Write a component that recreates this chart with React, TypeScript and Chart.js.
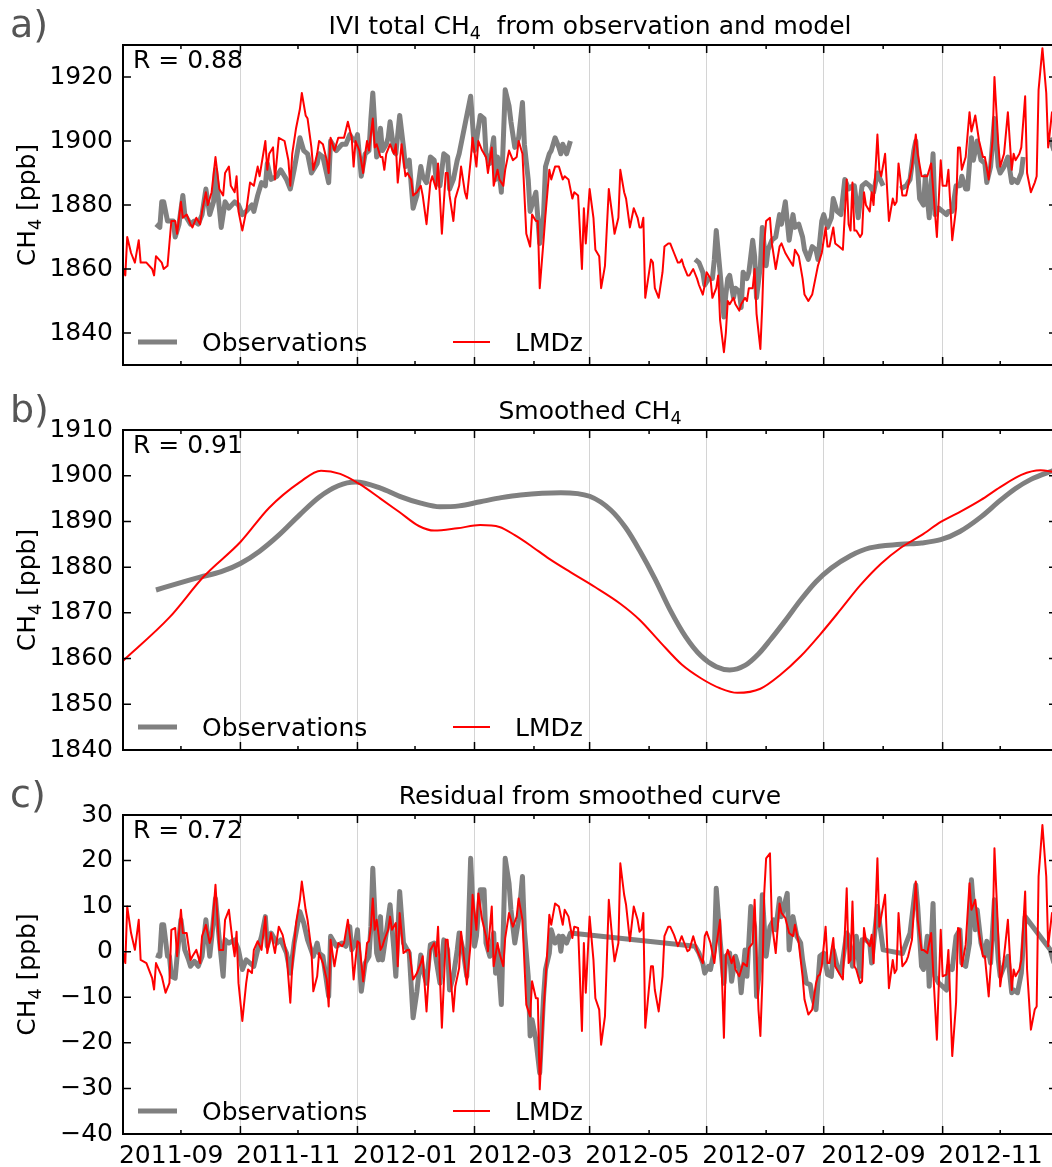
import React, { useEffect, useRef } from "react";
import { Chart, registerables } from "chart.js";

Chart.register(...registerables);

const FF = '"DejaVu Sans", "Liberation Sans", sans-serif';

// x values are days counted from 2011-07-01
const xTickDays = [62, 123, 184, 244, 305, 366, 428, 489];
const xTickLabels = ["2011-09", "2011-11", "2012-01", "2012-03", "2012-05", "2012-07", "2012-09", "2012-11"];
const xMinorDays = [31, 92, 153, 215, 275, 336, 397, 458];
const X_MIN = 0.8;
const X_MAX = 487.6;

type Pair = [number, number | null];

// a) total CH4
const obsTotal: Pair[] = [
  [18,1874],[20,1873],[21,1881],[22,1881],[24,1875],[25,1875],[27,1875],[28,1870],[30,1874],[32,1883],[33,1877],[35,1875],[36,1874],[38,1875],[40,1874],[42,1877],[44,1885],[46,1877],[48,1881],[49,1891],[51,1879],[52,1873],[54,1881],[56,1879],[59,1881],[61,1880],[63,1877],[65,1878],[68,1880],[69,1878],[71,1883],[73,1887],[75,1886],[76,1893],[78,1888],[81,1889],[83,1891],[86,1888],[88,1885],[90,1891],[93,1901],[95,1897],[97,1896],[99,1890],[102,1893],[103,1896],[105,1895],[108,1887],[109,1900],[112,1897],[115,1899],[117,1899],
  [119,1902],[120,1901],[122,1900],[123,1902],[125,1889],[127,1896],[129,1897],[130,1907],[131,1915],[133,1895],[134,1897],[135,1904],[136,1897],[138,1899],[139,1901],[140,1906],[142,1897],[143,1896],[145,1908],[147,1898],[148,1892],[150,1894],[152,1879],[154,1883],[156,1892],[157,1889],[159,1887],[161,1895],[163,1894],[164,1888],[166,1886],[168,1896],[170,1895],[171,1885],[173,1888],[175,1894],[176,1896],[182,1914],[184,1897],[185,1900],[187,1908],[189,1907],[190,1896],[192,1893],[194,1901],[195,1888],[196,1895],[198,1884],[200,1916],[202,1911],[203,1906],[205,1898],[207,1901],[209,1912],[210,1899],[212,1888],[213,1878],[214,1880],[216,1884],[218,1868],[220,1877],[221,1892],[223,1896],[224,1897],[226,1901],[228,1898],[229,1896],[230,1899],[232,1896],[234,1900],
  [260,null],
  [299,1863],[301,1862],[303,1859],[304,1855],[306,1857],[308,1857],[309,1863],[310,1872],[312,1859],[314,1845],[315,1852],[316,1857],[317,1858],[319,1851],[320,1854],[322,1853],[323,1848],[324,1859],[326,1857],[327,1859],[329,1869],[330,1864],[331,1851],[333,1861],[334,1873],[336,1861],[337,1866],[339,1869],[341,1870],[343,1877],[344,1874],[346,1881],[348,1869],[350,1877],[351,1873],[353,1874],[355,1870],[356,1866],[358,1863],[360,1867],[362,1866],[363,1863],
  [365,1875],[366,1877],[368,1873],[370,1876],[371,1882],[373,1878],[375,1877],[377,1888],[379,1885],[381,1886],[382,1886],[384,1876],[386,1886],[388,1887],[390,1886],[392,1884],[394,1890],[397,1886],
  [401,null],
  [406,1885],[409,1886],[411,1888],[413,1897],[414,1900],[416,1882],[418,1880],[419,1889],[421,1876],[423,1896],[424,1877],[426,1879],[428,1878],[430,1877],[431,1878],[433,1878],[435,1886],[437,1886],[438,1889],[440,1885],[441,1885],[443,1901],[444,1894],[446,1900],[448,1894],[450,1893],[451,1887],[453,1892],[455,1907],[457,1892],[458,1890],[460,1892],[462,1895],[464,1887],[465,1888],[467,1887],[469,1890],[470,1895],
  [477,null],
  [484,1901],[486,1897],
];

const lmdzTotal: Pair[] = [
  [1,1860],[2,1858],[3,1870],[5,1865],[7,1862],[9,1869],[10,1862],[13,1862],[16,1860],[17,1858],[18,1864],[21,1862],[22,1860],[24,1861],[26,1875],[28,1875],[29,1871],[31,1881],[32,1876],[34,1877],[36,1874],[37,1873],[39,1876],[41,1874],[42,1878],[44,1884],[45,1880],[47,1884],[49,1895],[51,1885],[53,1883],[54,1890],[56,1892],[57,1886],[59,1884],[60,1889],[61,1878],[63,1872],[65,1878],[67,1887],[69,1886],[71,1892],[72,1889],[75,1900],[76,1891],[77,1896],[79,1898],[80,1888],[82,1901],[85,1900],[87,1894],[88,1886],[89,1896],[91,1904],[93,1910],[94,1915],[96,1908],[97,1907],[99,1898],[100,1891],[102,1896],[103,1900],[105,1899],[107,1894],[108,1890],[109,1901],[111,1897],[113,1901],[115,1901],[116,1901],[118,1906],
  [120,1901],[121,1892],[122,1900],[124,1897],[126,1890],[127,1896],[128,1900],[129,1897],[131,1907],[132,1898],[133,1899],[135,1895],[136,1895],[137,1891],[138,1896],[140,1899],[142,1896],[143,1899],[144,1887],[146,1899],[148,1889],[149,1890],[151,1888],[152,1883],[154,1884],[156,1886],[157,1883],[159,1874],[161,1887],[162,1889],[164,1885],[165,1893],[167,1871],[169,1890],[170,1890],[171,1883],[173,1875],[174,1882],[176,1886],[177,1892],[179,1884],[180,1882],[182,1894],[183,1901],[185,1892],[186,1900],[188,1897],[190,1895],[191,1890],[193,1898],[194,1886],[196,1891],[197,1888],[199,1886],[200,1891],[202,1897],[204,1894],[206,1895],[207,1900],[209,1896],[211,1871],[213,1867],[214,1877],[216,1875],[217,1875],[218,1854],[220,1869],[221,1877],[223,1891],[224,1888],[226,1892],[228,1892],[230,1888],[231,1889],[233,1888],[235,1882],[236,1884],[238,1883],[240,1860],
  [241,1879],[242,1868],[244,1885],[246,1876],[247,1866],[249,1864],[250,1854],[252,1861],[254,1885],[256,1876],[257,1871],[259,1876],[260,1891],[262,1884],[263,1882],[265,1873],[267,1879],[269,1876],[270,1873],[271,1873],[272,1876],[273,1851],[276,1863],[277,1862],[278,1854],[280,1851],[282,1859],[283,1867],[285,1868],[286,1868],[288,1865],[290,1862],[291,1862],[292,1863],[293,1861],[295,1858],[296,1858],[298,1860],[300,1857],[301,1855],[303,1852],[304,1855],[305,1859],[307,1857],[308,1851],[310,1854],[311,1858],[312,1844],[314,1834],[315,1840],[316,1850],[317,1849],[319,1851],[320,1849],[322,1847],[323,1849],[325,1851],[326,1850],[327,1854],[329,1854],[330,1860],[331,1846],[333,1835],[334,1849],[335,1868],[336,1875],[338,1876],[339,1868],[341,1860],[343,1867],[344,1868],[346,1865],[348,1863],[350,1861],[351,1866],[353,1864],[355,1857],[356,1852],[358,1850],[360,1852],[362,1858],[363,1861],
  [365,1865],[367,1873],[368,1867],[369,1867],[371,1873],[372,1868],[374,1867],[376,1866],[378,1888],[379,1874],[380,1872],[381,1887],[382,1872],[383,1872],[385,1870],[386,1871],[387,1884],[388,1880],[390,1878],[391,1884],[392,1880],[394,1902],[395,1891],[396,1889],[398,1896],[400,1875],[402,1882],[403,1880],[404,1881],[405,1893],[407,1883],[409,1883],[410,1886],[412,1892],[414,1902],[415,1896],[417,1889],[418,1889],[420,1889],[422,1893],[425,1870],[427,1894],[428,1886],[430,1886],[431,1891],[433,1869],[435,1879],[436,1898],[437,1898],[438,1891],[440,1895],[442,1909],[443,1903],[445,1908],[447,1900],[449,1895],[450,1895],[452,1888],[454,1900],[455,1920],[457,1899],[458,1892],[460,1896],[462,1909],[464,1891],[465,1896],[466,1894],[468,1896],[469,1898],[471,1914],[472,1890],[474,1884],[476,1887],[477,1889],[478,1916],[480,1929],[482,1915],[483,1898],[485,1909],[486,1909],
];

// b) smoothed CH4
const obsSmooth: Pair[] = [
  [18,1875],[30,1876.5],[41,1877.8],[52,1879],[62,1880.8],[72,1883.5],[82,1887],[93,1891.5],[103,1895.3],[113,1897.8],[122,1898.6],[135,1897.3],[145,1895.5],[156,1894],[166,1893.2],[176,1893.4],[187,1894.3],[198,1895.2],[208,1895.8],[229,1896.3],[244,1895.5],[255,1892.5],[263,1888.5],[270,1883.7],[278,1877.5],[286,1870.6],[294,1864.8],[302,1860.6],[310,1858.2],[317,1857.5],[325,1858.5],[332,1861],[338,1864],[346,1868.3],[354,1872.8],[362,1876.8],[370,1879.8],[380,1882.5],[390,1884.2],[406,1885],[417,1885.3],[427,1886],[437,1887.8],[448,1891],[458,1894.6],[466,1897.2],[474,1899.2],[486,1901.2],
];
const lmdzSmooth: Pair[] = [
  [0,1859.2],[25,1869],[43,1878],[62,1885.5],[77,1893],[93,1898.6],[104,1901.1],[114,1900.4],[124,1898.2],[135,1895],[145,1892],[155,1889],[163,1888],[175,1888.5],[187,1889.2],[197,1888.8],[205,1887],[213,1884.8],[223,1881.8],[234,1878.9],[247,1875.6],[260,1872],[270,1868.5],[281,1863.5],[292,1858.7],[302,1855.7],[312,1853.5],[321,1852.5],[333,1853.4],[343,1856.3],[354,1860.5],[364,1865.2],[375,1870.8],[385,1876],[396,1880.8],[406,1884.2],[417,1887],[427,1889.9],[438,1892.3],[448,1894.7],[458,1897.5],[469,1900.2],[479,1901.2],[486,1900.8],
];

// c) residual from smoothed curve
const obsResidual: Pair[] = [
  [18,-0.7],[20,-1.0],[21,5.9],[22,5.9],[24,-1.0],[25,-1.0],[26,-5.4],[28,-5.8],[29,-1.0],[31,7.0],[33,0.4],[35,-1.8],[36,-3.2],[38,-2.1],[40,-3.2],[42,-1.0],[44,7.0],[46,-1.0],[47,3.0],[49,11.7],[51,2.6],[53,-5.4],[54,2.6],[56,1.9],[59,2.6],[61,0.4],[63,-3.9],[65,-1.8],[67,-2.5],[69,-3.2],[71,0.4],[73,3.4],[75,7.7],[76,1.2],[78,4.1],[81,1.9],[83,2.6],[86,-0.3],[88,-4.7],[90,1.9],[93,8.8],[95,6.3],[97,2.6],[100,-1.0],[102,1.9],[103,-0.3],[105,-1.0],[108,-9.8],[109,3.4],[112,1.2],[115,1.9],[117,1.2],
  [119,5.5],[120,0.4],[122,1.9],[123,4.8],[125,-8.7],[127,-2.5],[129,-1.0],[130,5.5],[131,18.3],[133,-0.3],[134,-1.8],[135,7.7],[136,-1.8],[138,4.1],[140,10.3],[142,0.4],[143,-5.4],[145,13.2],[147,1.9],[149,0.4],[150,-0.3],[152,-14.5],[154,-8.7],[156,-0.7],[157,-3.9],[159,-6.9],[161,1.5],[163,1.9],[164,-1.8],[166,-6.9],[168,2.6],[170,0.4],[171,-8.4],[173,-5.4],[175,0.4],[176,4.1],[178,0.4],[180,-5.4],[182,20.5],[184,1.2],[185,3.4],[187,13.6],[189,13.6],[190,1.9],[192,-1.0],[194,4.1],[195,-4.7],[196,0.4],[198,-11.6],[200,20.5],[202,15.0],[203,9.2],[205,1.9],[207,7.0],[209,16.5],[210,4.8],[212,-5.4],[213,-18.5],[214,-14.9],[216,-19.3],[218,-26.6],[220,-9.8],[221,-3.9],[223,-0.3],[224,4.8],[226,1.9],[228,3.4],[229,0.1],[230,3.4],[232,1.9],[234,4.1],
  [299,1.2],[301,-0.3],[303,-2.5],[304,-4.7],[306,-3.2],[307,-3.9],[309,0.4],[310,13.9],[312,2.6],[314,-6.9],[315,-1.0],[317,-0.3],[318,-6.5],[320,-1.0],[322,-3.9],[323,-9.0],[325,0.4],[326,-5.4],[328,9.9],[330,5.5],[331,-9.8],[333,-2.5],[334,12.5],[336,-1.0],[338,5.5],[340,7.0],[341,4.8],[343,11.7],[344,7.7],[347,12.8],[348,0.4],[350,7.7],[352,3.4],[354,1.9],[355,-1.8],[357,-6.9],[359,-7.2],[360,-9.8],[362,-12.7],[364,-1.0],
  [366,-0.3],[368,-5.0],[370,-5.4],[371,0.4],[373,-3.2],[375,-4.7],[378,4.1],[379,3.4],[381,-3.2],[383,3.4],[385,-5.4],[386,2.6],[388,2.6],[390,1.9],[391,-2.5],[394,9.9],[397,0.4],[407,-0.4],[409,1.9],[411,4.1],[414,14.7],[415,9.9],[417,-3.2],[418,-3.9],[420,3.4],[421,-7.6],[423,10.6],[424,-5.4],[426,-6.9],[428,-7.6],[430,-8.4],[431,-3.2],[433,-3.9],[435,3.4],[437,4.8],[438,-2.5],[440,-3.2],[442,1.9],[443,15.8],[445,4.8],[446,9.2],[448,1.9],[450,-1.0],[451,2.3],[453,-2.5],[455,11.4],[457,-1.8],[458,-5.4],[460,-3.2],[462,-1.0],[464,-9.0],[465,-8.4],[467,-9.0],[469,-4.7],[471,7.7],[484,0.5],[486,-2.5],
];

const lmdzResidual: Pair[] = [
  [1,-0.3],[2,-2.5],[3,9.9],[5,4.1],[7,0.4],[9,7.0],[10,-1.8],[13,-2.5],[16,-5.8],[17,-8.3],[18,-2.5],[21,-5.4],[23,-9.0],[25,-6.9],[26,4.8],[28,5.2],[29,-1.0],[31,9.2],[32,4.1],[34,4.1],[36,-1.8],[37,-1.0],[39,0.4],[41,-2.5],[42,3.4],[44,5.9],[46,1.9],[47,3.4],[49,14.7],[51,0.4],[53,0.4],[54,7.0],[56,9.2],[58,1.9],[59,-1.0],[60,4.4],[61,-6.9],[63,-15.2],[65,-6.9],[66,-3.9],[68,-4.7],[69,0.4],[71,2.3],[73,0.4],[75,7.7],[76,-0.3],[78,4.1],[80,-0.3],[82,5.5],[84,3.7],[86,-0.3],[88,-11.2],[89,-3.2],[91,6.3],[93,11.4],[94,15.4],[96,9.2],[97,7.0],[99,0.4],[100,-8.7],[102,-5.4],[103,-0.3],[105,-2.5],[107,-6.1],[108,-12.0],[109,2.6],[111,-3.2],[113,1.9],[115,1.2],[116,1.9],[118,7.0],[120,0.4],
  [121,-6.1],[123,2.3],[124,1.9],[126,-6.5],[128,1.9],[129,2.3],[130,5.5],[131,11.7],[132,4.8],[133,7.0],[135,0.4],[136,1.2],[137,2.6],[139,4.8],[140,7.7],[141,4.8],[143,6.3],[144,-3.2],[145,8.5],[147,-0.3],[149,0.4],[150,0.4],[152,-6.1],[154,-4.7],[156,-2.5],[157,-1.0],[159,-13.1],[161,0.4],[163,1.9],[164,-1.0],[165,5.5],[167,-16.7],[169,2.6],[170,2.6],[171,-2.5],[173,-13.1],[174,-7.6],[176,-3.6],[177,4.4],[179,-3.2],[180,-7.2],[182,1.9],[183,12.5],[185,4.8],[186,12.8],[188,7.0],[190,3.4],[191,0.1],[193,9.9],[194,-3.2],[196,1.9],[197,-0.3],[199,-3.2],[200,3.0],[202,8.5],[204,5.5],[206,7.7],[207,11.7],[209,7.0],[211,-11.6],[213,-14.2],[214,-6.5],[216,-10.2],[217,-10.2],[218,-30.2],[220,-12.7],[221,-6.5],[223,8.1],[224,5.9],[226,10.6],[228,9.9],[230,5.9],[231,9.2],[233,7.7],[235,3.0],[236,5.5],[238,5.2],[240,-17.4],
  [241,1.9],[242,-9.0],[244,7.7],[246,-1.8],[247,-10.2],[249,-12.7],[250,-20.4],[252,-14.2],[254,11.4],[256,1.9],[257,-2.1],[259,1.9],[260,19.4],[262,12.5],[263,10.3],[265,2.3],[267,9.9],[269,7.0],[270,4.4],[271,4.8],[272,8.5],[273,-16.7],[276,-3.2],[277,-3.2],[278,-8.4],[280,-13.1],[282,-5.4],[283,3.4],[285,5.5],[286,5.5],[288,3.7],[290,1.2],[291,2.3],[292,3.4],[293,2.3],[295,0.1],[296,0.4],[298,3.4],[300,0.4],[301,-0.7],[303,-2.5],[304,3.4],[305,4.4],[307,1.9],[309,-2.5],[310,1.2],[312,7.0],[314,-18.9],[315,-1.0],[316,0.4],[318,-2.5],[319,-1.0],[320,-3.9],[322,-5.4],[324,-2.5],[326,-3.2],[327,0.8],[329,1.9],[330,11.4],[332,-12.7],[333,-18.5],[334,-6.9],[335,12.8],[336,20.5],[338,21.6],[339,6.3],[341,-0.3],[343,10.6],[344,8.5],[346,7.4],[348,4.1],[350,3.4],[351,5.9],[353,1.9],[355,-5.4],[356,-10.5],[358,-13.8],[360,-12.7],[362,-6.9],[363,-5.4],
  [364,-5.0],[365,-3.2],[367,5.5],[368,-2.5],[369,-2.5],[371,3.0],[372,-3.2],[374,-4.7],[376,-6.1],[378,13.9],[379,-2.5],[380,-1.8],[381,11.0],[382,-3.2],[383,-3.9],[385,-6.9],[386,-6.5],[387,5.2],[388,2.6],[390,1.2],[391,3.7],[392,-2.5],[394,20.5],[395,5.5],[396,7.7],[398,12.5],[400,-8.0],[402,-1.8],[403,-4.7],[404,-3.9],[405,8.5],[407,-3.2],[409,-2.1],[410,-1.0],[412,2.6],[414,15.4],[415,7.0],[417,0.4],[418,0.4],[420,-0.3],[422,4.1],[425,-19.3],[427,4.8],[428,-5.4],[430,-5.0],[431,0.4],[433,-22.9],[435,-11.2],[436,5.2],[437,4.8],[438,-3.2],[440,1.5],[442,15.0],[443,9.2],[445,11.4],[447,4.1],[449,-1.0],[450,-1.0],[452,-9.8],[454,2.6],[455,22.7],[457,3.4],[458,-7.6],[460,-1.0],[462,7.0],[464,-8.4],[465,-3.9],[466,-5.4],[468,-3.9],[469,-1.8],[471,13.2],[472,-3.9],[474,-17.1],[476,-12.7],[477,-12.0],[478,16.5],[480,27.8],[482,16.5],[483,1.2],[485,8.5],[486,8.1],
];

const yTicksA = [1840, 1860, 1880, 1900, 1920];
const yTicksB = [1840, 1850, 1860, 1870, 1880, 1890, 1900, 1910];
const yTicksC = [-40, -30, -20, -10, 0, 10, 20, 30];
const rTexts = ["R = 0.88", "R = 0.91", "R = 0.72"];
const seriesNames = ["Observations", "LMDz"];

type Part = { text: string; sub?: boolean };

interface PanelDef {
  canvasTop: number;
  canvasH: number;
  plotTop: number;
  plotBottom: number;
  yMin: number;
  yMax: number;
  yTicks: number[];
  letter: string;
  title: Part[];
  r: string;
  obs: Pair[];
  mod: Pair[];
  showX: boolean;
  smooth: boolean;
}

const CANVAS_W = 1060;
const PLOT_LEFT = 123;
const PLOT_RIGHT = 1057;

const panels: PanelDef[] = [
  {
    canvasTop: 0, canvasH: 390, plotTop: 45, plotBottom: 365,
    yMin: 1830, yMax: 1930, yTicks: yTicksA, letter: "a)",
    title: [{ text: "IVI total CH" }, { text: "4", sub: true }, { text: "  from observation and model" }],
    r: rTexts[0], obs: obsTotal, mod: lmdzTotal, showX: false, smooth: false,
  },
  {
    canvasTop: 390, canvasH: 390, plotTop: 430, plotBottom: 750,
    yMin: 1840, yMax: 1910, yTicks: yTicksB, letter: "b)",
    title: [{ text: "Smoothed CH" }, { text: "4", sub: true }],
    r: rTexts[1], obs: obsSmooth, mod: lmdzSmooth, showX: false, smooth: true,
  },
  {
    canvasTop: 780, canvasH: 387, plotTop: 815, plotBottom: 1134,
    yMin: -40, yMax: 30, yTicks: yTicksC, letter: "c)",
    title: [{ text: "Residual from smoothed curve" }],
    r: rTexts[2], obs: obsResidual, mod: lmdzResidual, showX: true, smooth: false,
  },
];

function toPoints(p: Pair[]) {
  return p.map(([x, y]) => ({ x, y }));
}

function drawRich(ctx: CanvasRenderingContext2D, parts: Part[], x: number, y: number, size: number, center: boolean) {
  const widths = parts.map((p) => {
    ctx.font = `${p.sub ? size * 0.7 : size}px ${FF}`;
    return ctx.measureText(p.text).width;
  });
  const total = widths.reduce((a, b) => a + b, 0);
  let cx = center ? x - total / 2 : x;
  ctx.textAlign = "left";
  ctx.textBaseline = "alphabetic";
  parts.forEach((p, i) => {
    ctx.font = `${p.sub ? size * 0.7 : size}px ${FF}`;
    ctx.fillText(p.text, cx, y + (p.sub ? size * 0.22 : 0));
    cx += widths[i];
  });
}

function makeDeco(p: PanelDef) {
  return {
    id: "deco",
    afterDraw(chart: any) {
      const ctx: CanvasRenderingContext2D = chart.ctx;
      const { left, right, top, bottom } = chart.chartArea;
      const xs = chart.scales.x;
      const ys = chart.scales.y;
      ctx.save();
      ctx.strokeStyle = "#000";
      ctx.lineWidth = 2;
      ctx.strokeRect(left, top, right - left, bottom - top);

      ctx.lineWidth = 1.5;
      ctx.beginPath();
      p.yTicks.forEach((v) => {
        if (v <= p.yMin || v >= p.yMax) return;
        const y = ys.getPixelForValue(v);
        ctx.moveTo(left, y);
        ctx.lineTo(left + 8, y);
        ctx.moveTo(right, y);
        ctx.lineTo(right - 8, y);
      });
      xTickDays.forEach((d) => {
        const x = xs.getPixelForValue(d);
        ctx.moveTo(x, bottom);
        ctx.lineTo(x, bottom - 8);
        ctx.moveTo(x, top);
        ctx.lineTo(x, top + 8);
      });
      xMinorDays.forEach((d) => {
        const x = xs.getPixelForValue(d);
        ctx.moveTo(x, bottom);
        ctx.lineTo(x, bottom - 4);
        ctx.moveTo(x, top);
        ctx.lineTo(x, top + 4);
      });
      ctx.stroke();

      ctx.fillStyle = "#000";
      if (p.showX) {
        ctx.font = `25px ${FF}`;
        ctx.textAlign = "right";
        ctx.textBaseline = "alphabetic";
        xTickDays.forEach((d, i) => {
          const x = xs.getPixelForValue(d);
          ctx.fillText(xTickLabels[i], x - 17, bottom + 29);
        });
      }

      drawRich(ctx, p.title, (left + right) / 2, top - 11.5, 25, true);

      ctx.fillStyle = "#555555";
      ctx.font = `38px ${FF}`;
      ctx.textAlign = "left";
      ctx.textBaseline = "alphabetic";
      ctx.fillText(p.letter, 10, top - 8);

      ctx.fillStyle = "#000";
      ctx.font = `25px ${FF}`;
      ctx.fillText(p.r, 133, top + 23);

      const ly = bottom - 23;
      ctx.lineCap = "butt";
      ctx.strokeStyle = "#808080";
      ctx.lineWidth = 5;
      ctx.beginPath();
      ctx.moveTo(138, ly);
      ctx.lineTo(177, ly);
      ctx.stroke();
      ctx.strokeStyle = "#ff0000";
      ctx.lineWidth = 2;
      ctx.beginPath();
      ctx.moveTo(453, ly);
      ctx.lineTo(490, ly);
      ctx.stroke();
      ctx.fillStyle = "#000";
      ctx.font = `25px ${FF}`;
      ctx.fillText(seriesNames[0], 202, ly + 8.5);
      ctx.fillText(seriesNames[1], 515, ly + 8.5);

      ctx.save();
      ctx.translate(35, (top + bottom) / 2);
      ctx.rotate(-Math.PI / 2);
      drawRich(ctx, [{ text: "CH" }, { text: "4", sub: true }, { text: " [ppb]" }], 0, 0, 25, true);
      ctx.restore();

      ctx.restore();
    },
  };
}

function Panel({ p }: { p: PanelDef }) {
  const ref = useRef<HTMLCanvasElement>(null);
  useEffect(() => {
    const canvas = ref.current;
    if (!canvas) return;
    const interp = p.smooth ? "monotone" : "default";
    const chart = new Chart(canvas, {
      type: "line",
      data: {
        datasets: [
          {
            label: seriesNames[1],
            data: toPoints(p.mod) as any,
            borderColor: "#ff0000",
            backgroundColor: "#ff0000",
            borderWidth: 2,
            pointRadius: 0,
            tension: 0,
            cubicInterpolationMode: interp,
            spanGaps: false,
            order: 0,
            borderJoinStyle: "round",
          },
          {
            label: seriesNames[0],
            data: toPoints(p.obs) as any,
            borderColor: "#808080",
            backgroundColor: "#808080",
            borderWidth: 5,
            pointRadius: 0,
            tension: 0,
            cubicInterpolationMode: interp,
            spanGaps: false,
            order: 1,
            borderJoinStyle: "round",
          },
        ],
      },
      options: {
        animation: false,
        responsive: false,
        events: [],
        layout: {
          padding: { top: p.plotTop - p.canvasTop, right: CANVAS_W - PLOT_RIGHT, left: 0, bottom: 0 },
        },
        plugins: {
          legend: { display: false },
          tooltip: { enabled: false },
          title: { display: false },
        },
        scales: {
          x: {
            type: "linear",
            min: X_MIN,
            max: X_MAX,
            grid: { display: true, color: "#d4d4d4", lineWidth: 1, drawTicks: false },
            border: { display: false },
            ticks: { display: false },
            afterBuildTicks: (s: any) => {
              s.ticks = xTickDays.filter((d) => d < X_MAX).map((v) => ({ value: v }));
            },
            afterFit: (s: any) => {
              s.height = p.canvasTop + p.canvasH - p.plotBottom;
            },
          },
          y: {
            type: "linear",
            min: p.yMin,
            max: p.yMax,
            grid: { display: false, drawTicks: false },
            border: { display: false },
            ticks: {
              color: "#000",
              padding: 10,
              font: { family: FF, size: 25 },
              callback: (v: any) => (Number(v) < 0 ? "\u2212" + Math.abs(Number(v)) : String(v)),
            },
            afterBuildTicks: (s: any) => {
              s.ticks = p.yTicks.map((v) => ({ value: v }));
            },
            afterFit: (s: any) => {
              s.width = PLOT_LEFT;
            },
          },
        },
      } as any,
      plugins: [makeDeco(p)],
    });
    return () => chart.destroy();
  }, [p]);
  return (
    <canvas
      ref={ref}
      width={CANVAS_W}
      height={p.canvasH}
      style={{ position: "absolute", left: 0, top: p.canvasTop, width: CANVAS_W, height: p.canvasH }}
    />
  );
}

export default function App() {
  return (
    <div
      style={{
        position: "fixed",
        left: 0,
        top: 0,
        width: 1052,
        height: 1167,
        overflow: "hidden",
        background: "#ffffff",
      }}
    >
      {panels.map((p, i) => (
        <Panel key={i} p={p} />
      ))}
    </div>
  );
}
